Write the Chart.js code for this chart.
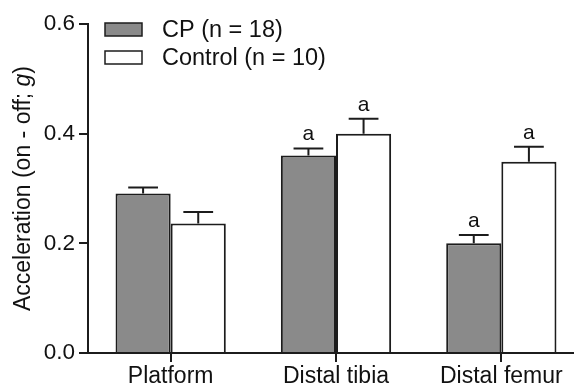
<!DOCTYPE html>
<html>
<head>
<meta charset="utf-8">
<script src="https://cdn.jsdelivr.net/npm/chart.js@4/dist/chart.umd.min.js"></script>
<style>
  html, body { margin: 0; padding: 0; background: #fff; overflow: hidden; width: 574px; height: 387px; }
  #wrap { width: 584px; height: 387px; }
</style>
</head>
<body>
<div id="wrap"><canvas id="c" width="584" height="387"></canvas></div>
<script>
// Sites measured and group means / SEM (g)
const categories = ['Platform', 'Distal tibia', 'Distal femur'];
const cpMean = [0.291, 0.360, 0.200];
const cpSem = [0.011, 0.013, 0.015];
const ctrlMean = [0.236, 0.400, 0.349];
const ctrlSem = [0.021, 0.027, 0.027];
// significance letters above each bar
const cpMarks = ['', 'a', 'a'];
const ctrlMarks = ['', 'a', 'a'];
const seriesLabels = ['CP (n = 18)', 'Control (n = 10)'];
const yTicks = [0.0, 0.2, 0.4, 0.6];

const FONT = '"Liberation Sans", Arial, Helvetica, sans-serif';
const INK = '#1c1c1c';
const CP_FILL = '#8a8a8a';
const CTRL_FILL = '#ffffff';

const semBySeries = [cpSem, ctrlSem];
const marksBySeries = [cpMarks, ctrlMarks];

// upward SEM whiskers plus letter markers
const errorBars = {
  id: 'errorBars',
  afterDatasetsDraw(chart) {
    const ctx = chart.ctx;
    const y = chart.scales.y;
    chart.data.datasets.forEach((ds, di) => {
      const meta = chart.getDatasetMeta(di);
      meta.data.forEach((bar, i) => {
        const v = ds.data[i];
        const top = y.getPixelForValue(v);
        const cap = y.getPixelForValue(v + semBySeries[di][i]);
        const half = bar.width * 0.27;
        ctx.save();
        ctx.strokeStyle = INK;
        ctx.lineWidth = 2;
        ctx.beginPath();
        ctx.moveTo(bar.x, top);
        ctx.lineTo(bar.x, cap);
        ctx.moveTo(bar.x - half, cap);
        ctx.lineTo(bar.x + half, cap);
        ctx.stroke();
        const m = marksBySeries[di][i];
        if (m) {
          ctx.fillStyle = '#111';
          ctx.font = '21px ' + FONT;
          ctx.textAlign = 'center';
          ctx.textBaseline = 'alphabetic';
          ctx.fillText(m, bar.x, cap - 8);
        }
        ctx.restore();
      });
    });
  }
};

// legend box in the upper-left of the plot
const boxLegend = {
  id: 'boxLegend',
  afterDraw(chart) {
    const ctx = chart.ctx;
    const area = chart.chartArea;
    const bx = area.left + 17, bw = 37, bh = 13;
    const rows = [29.5, 57.5];
    chart.data.datasets.forEach((ds, di) => {
      const cy = rows[di];
      ctx.save();
      ctx.fillStyle = ds.backgroundColor;
      ctx.fillRect(bx, cy - bh / 2, bw, bh);
      ctx.strokeStyle = INK;
      ctx.lineWidth = 1.5;
      ctx.strokeRect(bx, cy - bh / 2, bw, bh);
      ctx.fillStyle = '#111';
      ctx.font = '23.5px ' + FONT;
      ctx.textAlign = 'left';
      ctx.textBaseline = 'middle';
      ctx.fillText(ds.label, bx + 57, cy + 1);
      ctx.restore();
    });
  }
};

// rotated y-axis title with italic g
const yTitle = {
  id: 'yTitle',
  afterDraw(chart) {
    const ctx = chart.ctx;
    const area = chart.chartArea;
    const parts = [
      ['Acceleration (on - off; ', 'normal'],
      ['g', 'italic'],
      [')', 'normal']
    ];
    const size = '23px ';
    ctx.save();
    let total = 0;
    const widths = parts.map(([t, s]) => {
      ctx.font = s + ' ' + size + FONT;
      const w = ctx.measureText(t).width;
      total += w;
      return w;
    });
    ctx.translate(24, (area.top + area.bottom) / 2);
    ctx.rotate(-Math.PI / 2);
    ctx.fillStyle = '#111';
    ctx.textBaseline = 'middle';
    ctx.textAlign = 'left';
    let x = -total / 2;
    parts.forEach(([t, s], k) => {
      ctx.font = s + ' ' + size + FONT;
      ctx.fillText(t, x, 0);
      x += widths[k];
    });
    ctx.restore();
  }
};

const axisGrid = {
  drawOnChartArea: false,
  drawTicks: true,
  tickLength: 9,
  color: INK,
  lineWidth: 2
};

new Chart(document.getElementById('c'), {
  type: 'bar',
  data: {
    labels: categories,
    datasets: [
      {
        label: seriesLabels[0],
        data: cpMean,
        backgroundColor: CP_FILL,
        borderColor: INK,
        borderWidth: 2,
        borderSkipped: 'bottom',
        barPercentage: 1,
        categoryPercentage: 0.667
      },
      {
        label: seriesLabels[1],
        data: ctrlMean,
        backgroundColor: CTRL_FILL,
        borderColor: INK,
        borderWidth: 2,
        borderSkipped: 'bottom',
        barPercentage: 1,
        categoryPercentage: 0.667
      }
    ]
  },
  options: {
    responsive: false,
    animation: false,
    devicePixelRatio: 1,
    layout: { padding: { top: 24, right: 0, left: 0, bottom: 0 } },
    plugins: {
      legend: { display: false },
      tooltip: { enabled: false }
    },
    scales: {
      x: {
        type: 'category',
        offset: true,
        grid: Object.assign({ offset: false }, axisGrid),
        border: { display: true, color: INK, width: 2 },
        ticks: { color: '#111', font: { family: FONT, size: 23 }, padding: 1, maxRotation: 0 },
        afterFit: s => { s.height = 34; }
      },
      y: {
        min: 0,
        max: 0.6,
        grid: axisGrid,
        border: { display: true, color: INK, width: 2 },
        afterBuildTicks: s => { s.ticks = yTicks.map(v => ({ value: v })); },
        ticks: {
          color: '#111',
          font: { family: FONT, size: 22.5 },
          padding: 4,
          callback: v => Number(v).toFixed(1)
        },
        afterFit: s => { s.width = 88; }
      }
    }
  },
  plugins: [errorBars, boxLegend, yTitle]
});
</script>
</body>
</html>
